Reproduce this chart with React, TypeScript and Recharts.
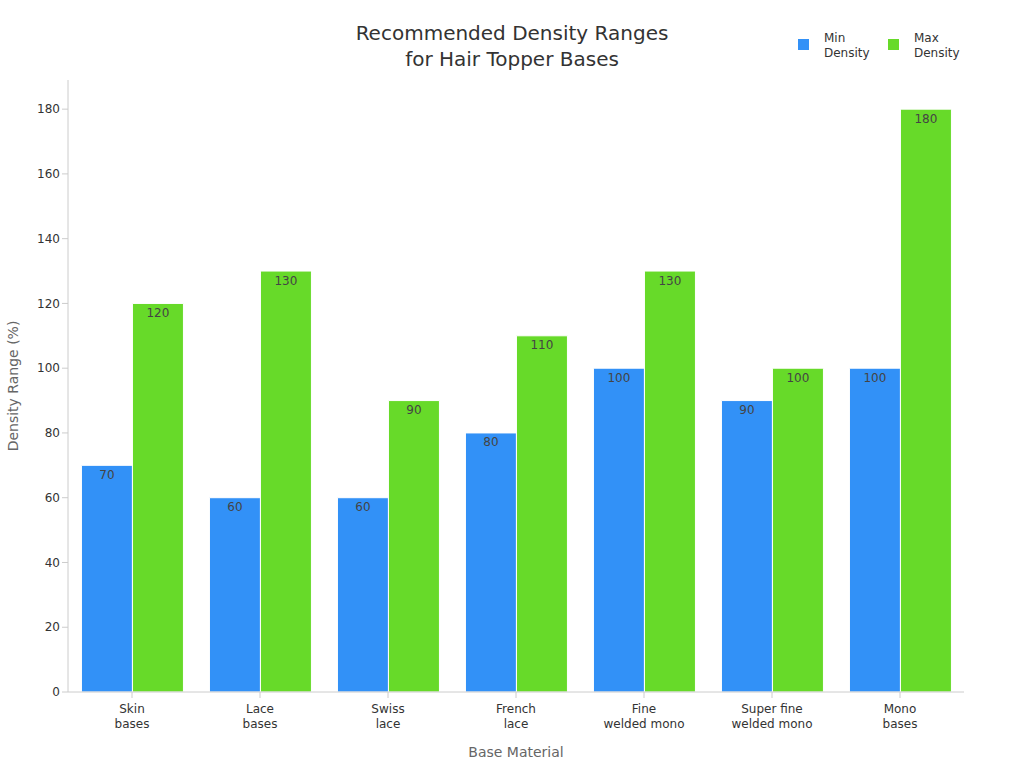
import React from "react";
import {
  BarChart,
  Bar,
  XAxis,
  YAxis,
  LabelList,
} from "recharts";

const categories = [
  "Skin\nbases",
  "Lace\nbases",
  "Swiss\nlace",
  "French\nlace",
  "Fine\nwelded mono",
  "Super fine\nwelded mono",
  "Mono\nbases",
];
const minDensity = [70, 60, 60, 80, 100, 90, 100];
const maxDensity = [120, 130, 90, 110, 130, 100, 180];
const yTicks = [0, 20, 40, 60, 80, 100, 120, 140, 160, 180];

const data = categories.map((name, i) => ({
  name,
  min: minDensity[i],
  max: maxDensity[i],
}));

const FONT = "'DejaVu Sans', sans-serif";
const BLUE = "#3291f7";
const GREEN = "#67da29";

// split the category label over two lines
const CategoryTick = ({ x, y, payload }: any) => {
  const lines = String(payload.value).split("\n");
  return (
    <g transform={`translate(${x},${y})`}>
      {lines.map((line, i) => (
        <text
          key={i}
          x={0}
          y={0}
          dy={13 + i * 15}
          textAnchor="middle"
          fill="#333"
          fontSize={12}
          fontFamily={FONT}
        >
          {line}
        </text>
      ))}
    </g>
  );
};

const legendItems = [
  { label: ["Min", "Density"], color: BLUE, x: 798 },
  { label: ["Max", "Density"], color: GREEN, x: 888 },
];

export default function App() {
  return (
    <div
      style={{
        position: "absolute",
        left: 0,
        top: 0,
        width: 1024,
        height: 768,
        background: "#fff",
        fontFamily: FONT,
      }}
    >
      <div
        style={{
          position: "absolute",
          left: 0,
          width: 1024,
          top: 20,
          textAlign: "center",
          fontSize: 20,
          lineHeight: "26px",
          color: "#333",
        }}
      >
        Recommended Density Ranges
        <br />
        for Hair Topper Bases
      </div>
      {legendItems.map((item) => (
        <div
          key={item.x}
          style={{ position: "absolute", left: item.x, top: 31, display: "flex" }}
        >
          <div
            style={{
              width: 11,
              height: 11,
              background: item.color,
              marginTop: 8,
              marginRight: 15,
            }}
          />
          <div style={{ fontSize: 12, lineHeight: "15px", color: "#333" }}>
            {item.label[0]}
            <br />
            {item.label[1]}
          </div>
        </div>
      ))}
      <BarChart
        width={1024}
        height={768}
        data={data}
        margin={{ top: 80, right: 60, bottom: 0, left: 8 }}
        barCategoryGap="10.5%"
        barGap={0}
        style={{ position: "absolute", left: 0, top: 0 }}
      >
        <XAxis
          dataKey="name"
          tick={<CategoryTick />}
          tickSize={6}
          stroke="#ccc"
          interval={0}
          height={76}
          label={{
            value: "Base Material",
            position: "insideBottom",
            offset: 11,
            fill: "#666",
            fontSize: 14,
            fontFamily: FONT,
          }}
        />
        <YAxis
          domain={[0, 189]}
          ticks={yTicks}
          tickSize={6}
          width={60}
          stroke="#ccc"
          tick={{ fill: "#333", fontSize: 12, fontFamily: FONT }}
          label={{
            value: "Density Range (%)",
            angle: -90,
            position: "insideLeft",
            offset: 5,
            fill: "#666",
            fontSize: 14,
            fontFamily: FONT,
            style: { textAnchor: "middle" },
          }}
        />
        <Bar
          dataKey="min"
          name="Min Density"
          fill={BLUE}
          stroke="#fff"
          strokeWidth={1}
          isAnimationActive={false}
        >
          <LabelList
            dataKey="min"
            position="insideTop"
            offset={5}
            fill="#444"
            fontSize={12}
            fontFamily={FONT}
          />
        </Bar>
        <Bar
          dataKey="max"
          name="Max Density"
          fill={GREEN}
          stroke="#fff"
          strokeWidth={1}
          isAnimationActive={false}
        >
          <LabelList
            dataKey="max"
            position="insideTop"
            offset={5}
            fill="#444"
            fontSize={12}
            fontFamily={FONT}
          />
        </Bar>
      </BarChart>
    </div>
  );
}
